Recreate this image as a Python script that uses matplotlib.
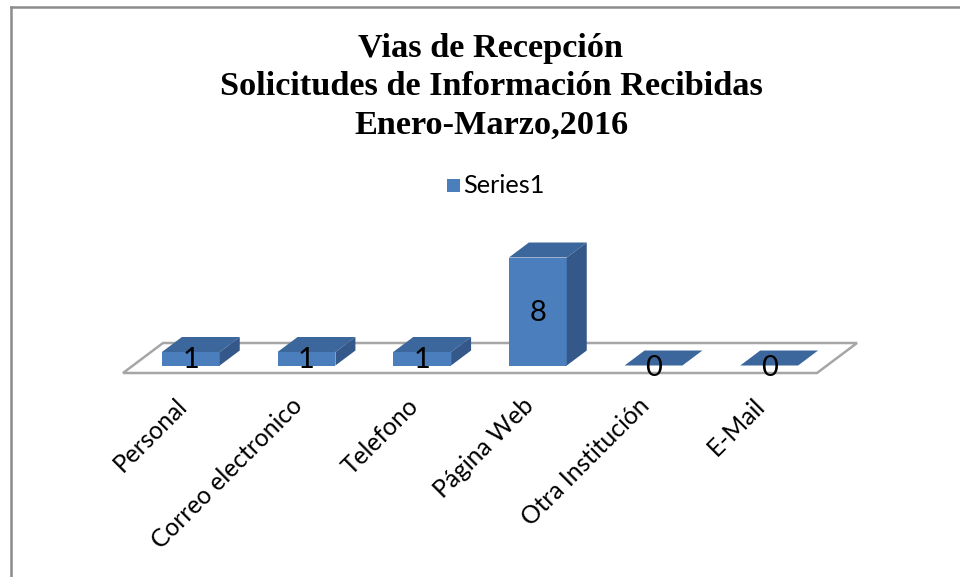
import matplotlib
matplotlib.use("Agg")
import matplotlib.pyplot as plt
from matplotlib.patches import Polygon, Rectangle
from matplotlib.lines import Line2D
from matplotlib import font_manager

categories = ["Personal", "Correo electronico", "Telefono", "Página Web", "Otra Institución", "E-Mail"]
values = [1, 1, 1, 8, 0, 0]
series_name = "Series1"
title_lines = ["Vias de Recepción", "Solicitudes de Información Recibidas", "Enero-Marzo,2016"]

avail = {f.name for f in font_manager.fontManager.ttflist}
title_font = "Liberation Serif" if "Liberation Serif" in avail else "DejaVu Serif"
body_font = "Lato" if "Lato" in avail else "DejaVu Sans"

W, H, DPI = 960, 577, 100
fig = plt.figure(figsize=(W / DPI, H / DPI), dpi=DPI)
fig.patch.set_facecolor("white")
renderer = fig.canvas.get_renderer()


def fit_size(text, target_px, **kw):
    t = fig.text(0, 0, text, fontsize=20, **kw)
    w = t.get_window_extent(renderer).width
    t.remove()
    return 20 * target_px / w


# frame lines (top and left)
fig.add_artist(Line2D([11 / W, 11 / W], [0, 1 - 7 / H], color="#8c8c8c", lw=1.8, transform=fig.transFigure))
fig.add_artist(Line2D([11 / W, 1], [1 - 7 / H, 1 - 7 / H], color="#8c8c8c", lw=1.8, transform=fig.transFigure))

# axes: floor front edge from px 123 to 817, baseline at px 373 (from top)
x0, x1, ybase = 123, 817, 373
px_per_y = 13.5
ymax = 10
ax = fig.add_axes([x0 / W, (H - ybase) / H, (x1 - x0) / W, ymax * px_per_y / H])
n = len(categories)
ax.set_xlim(-0.5, n - 0.5)
ax.set_ylim(0, ymax)
ax.axis("off")

px_per_x = (x1 - x0) / n
Dx, Dy = 40 / px_per_x, 30 / px_per_y  # full depth in data units

front_col = "#4a7ebc"
top_col = "#3c679c"
side_col = "#34588a"
floor_col = "#a6a6a6"

# floor
floor = Polygon([(-0.5, 0), (n - 0.5, 0), (n - 0.5 + Dx, Dy), (-0.5 + Dx, Dy)],
                closed=True, facecolor="white", edgecolor=floor_col, lw=1.8, zorder=1, clip_on=False)
ax.add_patch(floor)

lab_size = fit_size("Correo electronico", 203, family=body_font)
val_size = lab_size * 1.18

bw = 0.5
f0x, f0y = 0.25 * Dx, 0.25 * Dy
dbx, dby = 0.5 * Dx, 0.5 * Dy
xs = [i + f0x for i in range(n)]
bars = ax.bar(xs, values, width=bw, bottom=f0y, color=front_col, edgecolor="none", zorder=3)
for b in bars:
    b.set_clip_on(False)
for x, v in zip(xs, values):
    l, r = x - bw / 2, x + bw / 2
    top = f0y + v
    ax.add_patch(Polygon([(l, top), (r, top), (r + dbx, top + dby), (l + dbx, top + dby)],
                         closed=True, facecolor=top_col, edgecolor="none", zorder=4, clip_on=False))
    if v > 0:
        ax.add_patch(Polygon([(r, f0y), (r + dbx, f0y + dby), (r + dbx, top + dby), (r, top)],
                             closed=True, facecolor=side_col, edgecolor="none", zorder=4, clip_on=False))
    ax.text(x, f0y + v / 2 - (0.1 if v > 0 else 0.15), str(v), ha="center", va="center",
            fontsize=val_size, family=body_font, color="black", zorder=6)

# category labels
for i, c in enumerate(categories):
    ax.annotate(c, xy=(i, 0), xycoords="data", xytext=(2, -29), textcoords="offset pixels",
                rotation=45, rotation_mode="anchor", ha="right", va="center",
                fontsize=lab_size, family=body_font, color="black")

# title
title_size = fit_size(title_lines[1], 543, family=title_font, fontweight="bold")
for k, t in enumerate(title_lines):
    fig.text(491 / W, 1 - (48 + 38.5 * k) / H, t, ha="center", va="center",
             fontsize=title_size, fontweight="bold", family=title_font, color="black")

# legend
leg_size = fit_size(series_name, 82, family=body_font)
fig.add_artist(Rectangle((447 / W, 1 - 192 / H), 13 / W, 13 / H, transform=fig.transFigure,
                         facecolor=front_col, edgecolor="none"))
fig.text(463 / W, 1 - 186 / H, series_name, ha="left", va="center", fontsize=leg_size,
         family=body_font, color="black")

fig.savefig("out.png", dpi=DPI)
